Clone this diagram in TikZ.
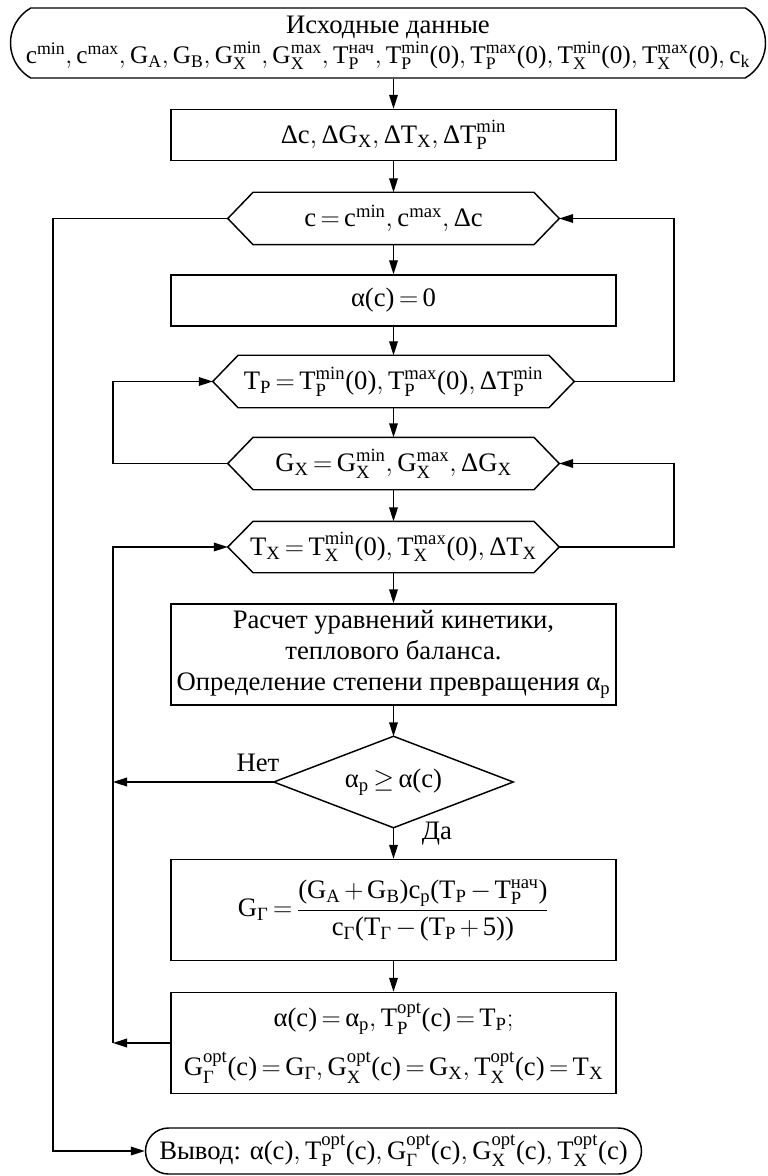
\RequirePackage{fix-cm}
\documentclass[tikz,border=0pt]{standalone}
\usepackage{amsmath}
\usepackage{fontspec}
\setmainfont{Liberation Serif}
\usetikzlibrary{shapes.misc,arrows.meta}
\newcommand\rmt[1]{\text{#1}}
\newcommand\VS[2]{\rmt{#1}_{\rmt{#2}}}
\newcommand\VP[2]{\rmt{#1}^{\rmt{#2}}}
\newcommand\VB[3]{\rmt{#1}_{\rmt{#2}}^{\rmt{#3}}}
\newcommand\al{\rmt{α}}
\newcommand\pz{\rmt{(0)}}
\newcommand\pc{\rmt{(c)}}
\thickmuskip=3mu plus 2mu
\medmuskip=2.5mu plus 1mu
\begin{document}
\begin{tikzpicture}[x=0.75pt,y=-0.75pt,line width=1.1pt,
  >={Triangle[length=10.5pt,width=6.5pt]},
  base/.style={font=\fontsize{20}{23}\selectfont,inner sep=0pt,align=center},
  boxn/.style={base,draw,rectangle,minimum width=333.75pt},
  hexn/.style={base,rectangle,minimum height=38.25pt},
  term/.style={base,draw,rounded rectangle}]
\useasboundingbox (0,0) rectangle (767,1176);

\node[term,rounded rectangle arc length=120,minimum width=566.25pt,minimum height=52.5pt] (start) at (388,43)
 {Исходные данные\\[-1pt] {\fontsize{19}{22}\selectfont$\VP{c}{min},\VP{c}{max},\VS{G}{A},\VS{G}{B},\VB{G}{X}{min},\VB{G}{X}{max},\VB{T}{P}{нач},\VB{T}{P}{min}\pz,\VB{T}{P}{max}\pz,\VB{T}{X}{min}\pz,\VB{T}{X}{max}\pz,\VS{c}{k}$}};
\node[boxn,minimum height=38.25pt] (delta) at (393.5,135)
 {$\rmt{Δ}\rmt{c},\rmt{Δ}\VS{G}{X},\rmt{Δ}\VS{T}{X},\rmt{Δ}\VB{T}{P}{min}$};
\node[hexn,minimum width=247.5pt] (loopc) at (393.5,218.5)
 {$\rmt{c}=\VP{c}{min},\VP{c}{max},\rmt{Δ}\rmt{c}$};
\node[boxn,minimum height=38.25pt] (azero) at (393.5,300.5)
 {$\al\pc=\rmt{0}$};
\node[hexn,minimum width=270pt] (looptp) at (393.5,381.5)
 {$\VS{T}{P}=\VB{T}{P}{min}\pz,\VB{T}{P}{max}\pz,\rmt{Δ}\VB{T}{P}{min}$};
\node[hexn,minimum width=247.5pt] (loopgx) at (393.5,463.5)
 {$\VS{G}{X}=\VB{G}{X}{min},\VB{G}{X}{max},\rmt{Δ}\VS{G}{X}$};
\node[hexn,minimum width=247.5pt,minimum height=37.5pt] (looptx) at (393.5,547)
 {$\VS{T}{X}=\VB{T}{X}{min}\pz,\VB{T}{X}{max}\pz,\rmt{Δ}\VS{T}{X}$};
\node[boxn,minimum height=75.75pt] (calc) at (393.5,654.5)
 {Расчет уравнений кинетики,\\ теплового баланса.\\ Определение степени превращения $\al_{\rmt{p}}$};
\node[base,minimum width=178.5pt,minimum height=67.5pt] (cond) at (393.5,782)
 {$\al_{\rmt{p}}\geq\al\pc$};
\node[boxn,minimum height=75.75pt] (gg) at (393.5,910)
 {$\VS{G}{Г}=\dfrac{\rmt{(}\VS{G}{A}+\VS{G}{B}\rmt{)}\VS{c}{p}\rmt{(}\VS{T}{P}-\VB{T}{P}{нач}\rmt{)}}{\VS{c}{Г}\rmt{(}\VS{T}{Г}-\rmt{(}\VS{T}{P}+\rmt{5))}}$};
\node[boxn,minimum height=75.75pt] (upd) at (393.5,1043)
 {$\al\pc=\al_{\rmt{p}},\VB{T}{P}{opt}\pc=\VS{T}{P};$\\[12pt]
  $\VB{G}{Г}{opt}\pc=\VS{G}{Г},\VB{G}{X}{opt}\pc=\VS{G}{X},\VB{T}{X}{opt}\pc=\VS{T}{X}$};
\node[term,minimum width=372pt,minimum height=34.5pt] (out) at (393.5,1151)
 {Вывод: $\al\pc,\VB{T}{P}{opt}\pc,\VB{G}{Г}{opt}\pc,\VB{G}{X}{opt}\pc,\VB{T}{X}{opt}\pc$};

\foreach \h in {loopc,looptp,loopgx,looptx}
  \draw (\h.west) -- ([xshift=19pt]\h.north west) -- ([xshift=-19pt]\h.north east)
        -- (\h.east) -- ([xshift=-19pt]\h.south east) -- ([xshift=19pt]\h.south west) -- cycle;
\draw (cond.west) -- (cond.north) -- (cond.east) -- (cond.south) -- cycle;

\node[base] (no) at (258,763) {Нет};
\node[base] (yes) at (437,834) {Да};

\coordinate (xL) at (53,0);
\coordinate (xM) at (113,0);
\coordinate (xR) at (674,0);

\draw[->] (start.south -| delta.north) -- (delta.north);
\draw[->] (delta.south) -- (loopc.north);
\draw[->] (loopc.south) -- (azero.north);
\draw[->] (azero.south) -- (looptp.north);
\draw[->] (looptp.south) -- (loopgx.north);
\draw[->] (loopgx.south) -- (looptx.north);
\draw[->] (looptx.south) -- (calc.north);
\draw[->] (calc.south) -- (cond.north);
\draw[->] (cond.south) -- (gg.north);
\draw[->] (gg.south) -- (upd.north);

\draw[->] (loopc.west) -- (loopc.west -| xL) |- (out.west);
\draw[->] (looptp.east) -- (looptp.east -| xR) |- (loopc.east);
\draw[->] (loopgx.west) -- (loopgx.west -| xM) |- (looptp.west);
\draw[->] (looptx.east) -- (looptx.east -| xR) |- (loopgx.east);
\coordinate (back) at (upd.west -| xM);
\draw[->] (upd.west) -- (back);
\draw[->] (back) |- (looptx.west);
\draw[->] (cond.west) -- (cond.west -| xM);
\end{tikzpicture}
\end{document}
